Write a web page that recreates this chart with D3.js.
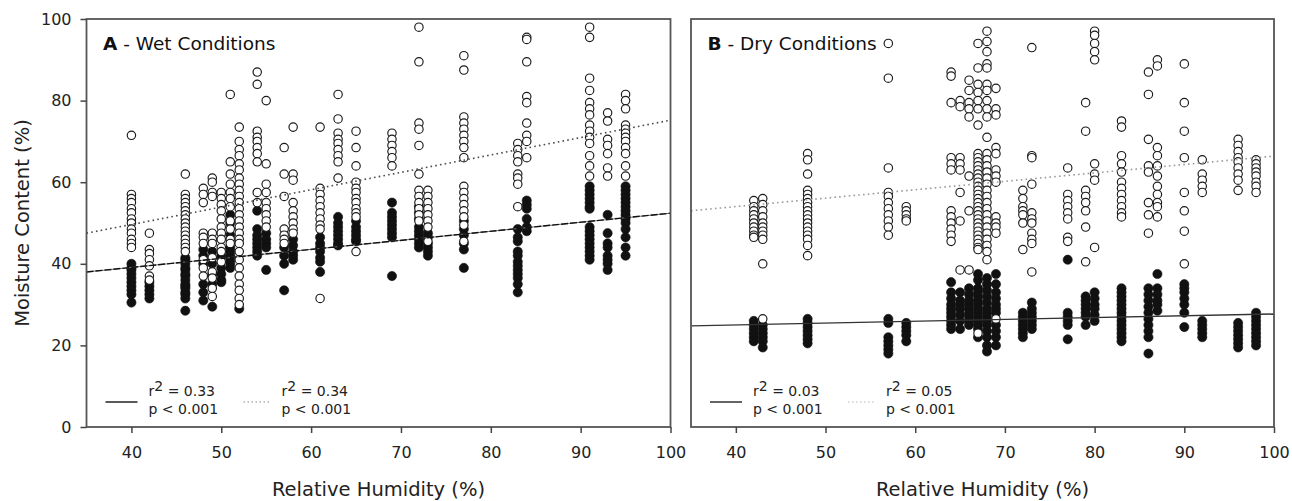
<!DOCTYPE html>
<html><head><meta charset="utf-8">
<script src="https://cdn.jsdelivr.net/npm/d3@7"></script>
<style>body{margin:0;background:#fff}svg{display:block}</style>
</head><body><svg id="c" width="1292" height="501"></svg>
<script>
// ---------- DATA ----------
const xTicks = [40, 50, 60, 70, 80, 90, 100];
const yTicks = [0, 20, 40, 60, 80, 100];
const rhDomain = [35, 100];
const mcDomain = [0, 100];

// Panel A - wet conditions
const wetRH = [40, 42, 46, 48, 49, 50, 51, 52, 54, 55, 57, 58, 61, 63, 65, 69, 72, 73, 77, 83, 84, 91, 93, 95];
const wetOpen = [
  [71.5, 57, 56, 55, 53.5, 52.5, 51, 50, 48.5, 47.5, 46, 45, 44],
  [47.5, 43.5, 42.5, 41, 39.5, 37, 36],
  [62, 57, 56, 55, 54, 53, 52, 51, 50, 49, 48, 47, 46, 45, 44, 43],
  [58.5, 57, 55, 47.5, 46.5, 45, 41, 39, 37],
  [61, 60, 57.5, 56.5, 47.5, 46, 45, 41.5, 38, 36.5, 34, 32],
  [57.5, 56, 54.5, 53, 51, 49, 47.5, 46, 44, 43, 40.5],
  [81.5, 65, 62, 59.5, 57.5, 56, 54, 50.5, 48.5, 46, 45],
  [73.5, 70, 68, 66.5, 64.5, 63, 61, 59.5, 58, 56.5, 55, 53.5, 52, 50.5, 49, 47.5, 46, 45, 43, 41, 39, 37, 35, 33.5, 31.5, 30],
  [87, 84, 72.5, 71, 70, 68.5, 67, 65, 57.5, 55],
  [80, 64.5, 59.5, 57.5, 55, 53.5, 52, 50.5, 49],
  [68.5, 62, 56.5, 48.5, 47, 46, 45],
  [73.5, 62, 60.5, 55, 53, 51.5, 50, 48.5, 47.5],
  [73.5, 58.5, 57, 55.5, 54, 52.5, 51, 49.5, 48.5, 31.5],
  [81.5, 75.5, 72, 70.5, 69.5, 68, 66.5, 65, 61],
  [72.5, 68.5, 64, 60, 58.5, 57.5, 56, 55, 53.5, 52.5, 51.5, 43],
  [72, 70.5, 69, 67.5, 66, 64],
  [98, 89.5, 74.5, 73, 69, 62, 58, 56.5, 55, 53.5, 52, 50.5],
  [58, 56.5, 55, 53.5, 52, 50.5, 49, 45.5],
  [91, 87.5, 76, 74.5, 73, 71.5, 70, 68.5, 66, 59, 57.5, 56, 54.5, 53, 51.5, 49.5, 45.5],
  [69.5, 68, 66.5, 65, 62, 61, 59.5, 54],
  [95.5, 95, 89.5, 81, 79.5, 74.5, 71.5, 70, 66],
  [98, 95.5, 85.5, 82.5, 79.5, 78, 76.5, 74, 72.5, 71, 69.5, 66.5, 64, 61.5],
  [77, 75, 70.5, 69, 67, 63.5, 61.5],
  [81.5, 80, 78, 74, 73, 72, 71, 70, 68.5, 67, 64, 61.5]
];
const wetFilled = [
  [40, 39, 38.5, 37.5, 36.5, 35.5, 34.5, 33.5, 32.5, 30.5],
  [35.5, 34.5, 33.5, 32.5, 31.5],
  [41.5, 41, 40, 39, 38.5, 37.5, 37, 36, 35, 34.5, 34, 33, 32.5, 31.5, 28.5],
  [43.5, 42, 40, 35, 33, 31],
  [43, 40, 37.5, 35, 29.5],
  [42, 39, 37.5, 36, 35.5],
  [52, 50, 47, 44, 43, 42, 41, 40, 39],
  [29],
  [53, 48.5, 47, 46, 45, 44, 43, 42],
  [47.5, 46, 45, 44, 38.5],
  [44, 42, 40, 33.5],
  [46, 44.5, 43, 42, 41],
  [46.5, 45, 44, 43, 41.5, 40.5, 38],
  [51.5, 50, 49, 48, 47, 46, 45, 44.5],
  [50.5, 49, 48, 47, 46, 45.5],
  [55, 52.5, 51.5, 50.5, 49.5, 48.5, 47.5, 46.5, 37],
  [54, 52.5, 51, 49, 48, 47, 46, 45, 44],
  [47.5, 46.5, 45, 44, 43, 42],
  [50.5, 48.5, 47, 45, 43.5, 39],
  [48.5, 46.5, 45.5, 43, 42, 40.5, 39.5, 38.5, 37.5, 36.5, 35, 33],
  [55.5, 54.5, 53.5, 51, 49, 48],
  [59, 58, 57, 56, 55, 54, 53.5, 49, 48, 47, 46, 45, 44, 43, 42, 41],
  [52, 47.5, 45, 44, 42, 41, 40, 38.5],
  [59, 58, 57, 56, 55, 54, 53, 52, 51, 50, 48.5, 46.5, 44, 42]
];

// Panel B - dry conditions
const dryRH = [42, 43, 48, 57, 59, 64, 65, 66, 67, 68, 69, 72, 73, 77, 79, 80, 83, 86, 87, 90, 92, 96, 98];
const dryOpen = [
  [55.5, 54, 53, 52, 51, 50, 49, 48, 47, 46.5],
  [56, 54.5, 53, 51.5, 50, 49, 48, 47, 46, 40, 26.5],
  [67, 65.5, 62, 58, 57, 56, 55, 54, 53, 52, 51, 50, 49, 48, 47, 46, 44.5, 42],
  [94, 85.5, 63.5, 57.5, 56.5, 55, 53.5, 52, 50.5, 49, 47],
  [54, 53, 52, 51, 50.5],
  [87, 86, 79.5, 66, 64.5, 63, 53, 51.5, 50, 48.5, 47, 45.5],
  [80, 78.5, 66, 64.5, 63, 57.5, 50.5, 38.5],
  [85, 82.5, 79.5, 78, 76, 61.5, 53, 38.5],
  [94, 88, 84, 82, 80, 78, 74, 67, 66, 65, 64, 63, 62, 61, 60, 59, 58, 57, 56, 55, 54, 53, 52, 51, 50, 49, 48, 47, 46, 45, 44, 43.5, 23],
  [97, 94.5, 92, 89, 88, 84, 82.5, 80, 78, 76, 71, 67, 65.5, 64, 62.5, 61, 59.5, 58, 56.5, 55, 53.5, 52, 50.5, 49, 47.5, 46, 44.5, 43, 41],
  [83, 78, 76.5, 68.5, 67, 63, 61.5, 60, 51.5, 50, 49, 47.5, 26.5],
  [58, 56, 54, 53, 52, 50, 43.5],
  [93, 66.5, 66, 59.5, 52.5, 51, 50, 47.5, 46, 45, 38],
  [63.5, 57, 55.5, 54, 52.5, 51, 46.5, 45.5],
  [79.5, 72.5, 58, 56.5, 55, 53, 49, 40.5],
  [97, 96, 94, 92, 90, 64.5, 62, 60.5, 44],
  [75, 73.5, 66.5, 64.5, 62.5, 60, 58.5, 57, 55.5, 54, 52.5, 51.5],
  [87, 81.5, 70.5, 64, 62.5, 55, 52, 47.5],
  [90, 88.5, 68.5, 66.5, 64, 61.5, 59, 57, 55, 54, 51.5],
  [89, 79.5, 72.5, 66, 57.5, 53, 48, 40],
  [65.5, 62, 60.5, 59, 57.5],
  [70.5, 69, 67.5, 66, 65, 63.5, 62, 60.5, 58],
  [65.5, 64.5, 63.5, 62.5, 61.5, 60, 59, 57.5]
];
const dryFilled = [
  [26, 25, 24, 23, 22, 21],
  [25, 24, 23, 22, 21, 19.5],
  [26.5, 25.5, 24.5, 23.5, 22.5, 21.5, 20.5],
  [26.5, 25.5, 22, 21, 20, 19, 18],
  [25.5, 24.5, 23.5, 22.5, 21],
  [35.5, 33, 31.5, 30, 29, 28, 27, 26, 25, 24],
  [33, 31, 30, 29, 27.5, 26, 24],
  [34, 32.5, 31, 30, 29, 28, 27, 26, 25],
  [37.5, 36, 34, 33, 32, 31, 30, 29, 28, 27, 26, 25, 24, 22],
  [36.5, 35, 33.5, 32, 30.5, 29, 28, 27, 26, 25, 23.5, 22, 20, 18.5],
  [37.5, 35, 33, 31.5, 30, 29, 28, 25, 23.5, 22, 20],
  [28, 27, 26, 25, 24, 23, 22],
  [30.5, 29, 28, 27, 26, 25, 24],
  [41, 28, 27, 26, 25, 21.5],
  [32, 31, 30, 29, 28, 27, 25],
  [33, 31.5, 30, 29, 27.5, 26],
  [34, 33, 32, 31, 30, 29, 28, 27, 26, 25, 24, 23, 22, 21],
  [34, 32.5, 31, 29.5, 28, 26.5, 25, 23.5, 22, 18],
  [37.5, 34, 32.5, 31, 30, 28.5],
  [35, 34, 33, 31.5, 30, 28, 24.5],
  [26, 25, 24, 23, 22],
  [25.5, 24.5, 23.5, 22.5, 21.5, 20.5, 19.5],
  [28, 27, 26, 25, 24, 23, 22, 21, 20]
];

// Regression lines (end points at RH 35 and 100)
const fitRH = [35, 100];
const wetFitFilled = [38.0, 52.4];
const wetFitOpen = [47.5, 75.2];
const dryFitFilled = [24.8, 27.7];
const dryFitOpen = [53.0, 66.4];

// Legend statistics
const wetR2 = ["0.33", "0.34"];
const dryR2 = ["0.03", "0.05"];
const pText = "p < 0.001";

// ---------- DRAW ----------
const FONT = '"DejaVu Sans", "Liberation Sans", Arial, sans-serif';
const svg = d3.select('#c');
const TOP = 19, BOT = 427;
const y = d3.scaleLinear().domain(mcDomain).range([BOT, TOP]);

const panels = [
  {letter: 'A', title: ' - Wet Conditions', rh: wetRH, open: wetOpen, filled: wetFilled,
   fitF: wetFitFilled, fitO: wetFitOpen, r2: wetR2, left: 86.5, right: 670.5,
   dotCol: '#4a4a4a', legDotCol: '#b0b0b0', dashed: true, yAxis: true},
  {letter: 'B', title: ' - Dry Conditions', rh: dryRH, open: dryOpen, filled: dryFilled,
   fitF: dryFitFilled, fitO: dryFitOpen, r2: dryR2, left: 691, right: 1274,
   dotCol: '#9a9a9a', legDotCol: '#d0d0d0', dashed: false, yAxis: false}
];

panels.forEach(p => {
  const x = d3.scaleLinear().domain(rhDomain).range([p.left, p.right]);
  const g = svg.append('g');
  const pts = arr => p.rh.flatMap((rh, i) => arr[i].map(v => ({rh, v})));

  g.append('g').selectAll('circle').data(pts(p.filled)).join('circle')
    .attr('cx', d => x(d.rh)).attr('cy', d => y(d.v)).attr('r', 4.6)
    .attr('fill', '#111').attr('stroke', '#111').attr('stroke-width', 0.6);
  g.append('g').selectAll('circle').data(pts(p.open)).join('circle')
    .attr('cx', d => x(d.rh)).attr('cy', d => y(d.v)).attr('r', 4.2)
    .attr('fill', '#fff').attr('stroke', '#1a1a1a').attr('stroke-width', 1.15);

  const line = d3.line().x(d => x(d[0])).y(d => y(d[1]));
  const fF = fitRH.map((r, i) => [r, p.fitF[i]]);
  const fO = fitRH.map((r, i) => [r, p.fitO[i]]);
  if (p.dashed) {
    g.append('path').datum(fF).attr('d', line).attr('stroke', '#777').attr('stroke-width', 1).attr('fill', 'none');
    g.append('path').datum(fF).attr('d', line).attr('stroke', '#111').attr('stroke-width', 1.4)
      .attr('stroke-dasharray', '7,2').attr('fill', 'none');
  } else {
    g.append('path').datum(fF).attr('d', line).attr('stroke', '#333').attr('stroke-width', 1.3).attr('fill', 'none');
  }
  g.append('path').datum(fO).attr('d', line).attr('stroke', p.dotCol).attr('stroke-width', 1.6)
    .attr('stroke-dasharray', '1.6,3.2').attr('fill', 'none');

  // frame
  g.append('rect').attr('x', p.left).attr('y', TOP).attr('width', p.right - p.left).attr('height', BOT - TOP)
    .attr('fill', 'none').attr('stroke', '#555').attr('stroke-width', 1.8);

  // x axis
  const xa = g.append('g').attr('transform', `translate(0,${BOT})`)
    .call(d3.axisBottom(x).tickValues(xTicks).tickSize(6).tickPadding(14).tickSizeOuter(0));
  xa.select('.domain').remove();
  xa.attr('font-family', FONT).attr('font-size', 16);
  xa.selectAll('line').attr('stroke', '#444').attr('stroke-width', 1.5);
  xa.selectAll('text').attr('fill', '#222');

  g.append('text').attr('x', (p.left + p.right) / 2).attr('y', 496).attr('text-anchor', 'middle')
    .attr('font-family', FONT).attr('font-size', 19.5).attr('fill', '#222').text('Relative Humidity (%)');

  if (p.yAxis) {
    const ya = g.append('g').attr('transform', `translate(${p.left},0)`)
      .call(d3.axisLeft(y).tickValues(yTicks).tickSize(6).tickPadding(9).tickSizeOuter(0));
    ya.select('.domain').remove();
    ya.attr('font-family', FONT).attr('font-size', 16);
    ya.selectAll('line').attr('stroke', '#444').attr('stroke-width', 1.5);
    ya.selectAll('text').attr('fill', '#222');
    g.append('text').attr('transform', `translate(29,${(TOP + BOT) / 2}) rotate(-90)`)
      .attr('text-anchor', 'middle').attr('font-family', FONT).attr('font-size', 19.5).attr('fill', '#222')
      .text('Moisture Content (%)');
  }

  // title
  const t = g.append('text').attr('x', p.left + 16.5).attr('y', 50).attr('font-family', FONT)
    .attr('font-size', 18.5).attr('fill', '#111');
  t.append('tspan').attr('font-weight', 'bold').text(p.letter);
  t.append('tspan').text(p.title);

  // legend
  const L = p.left;
  const leg = [
    {x1: L + 19, x2: L + 51, tx: L + 62, col: '#222', dash: null, w: 1.4, r2: p.r2[0]},
    {x1: L + 157, x2: L + 185, tx: L + 195, col: p.legDotCol, dash: '1.5,2.5', w: 1.5, r2: p.r2[1]}
  ];
  leg.forEach(d => {
    g.append('line').attr('x1', d.x1).attr('x2', d.x2).attr('y1', 402).attr('y2', 402)
      .attr('stroke', d.col).attr('stroke-width', d.w).attr('stroke-dasharray', d.dash);
    const tx = g.append('text').attr('x', d.tx).attr('y', 396).attr('font-family', FONT)
      .attr('font-size', 14).attr('fill', '#222');
    tx.append('tspan').text('r');
    tx.append('tspan').attr('dy', -5).text('2');
    tx.append('tspan').attr('dy', 5).text(' = ' + d.r2);
    g.append('text').attr('x', d.tx).attr('y', 414).attr('font-family', FONT)
      .attr('font-size', 14).attr('fill', '#222').text(pText);
  });
});
</script></body></html>
